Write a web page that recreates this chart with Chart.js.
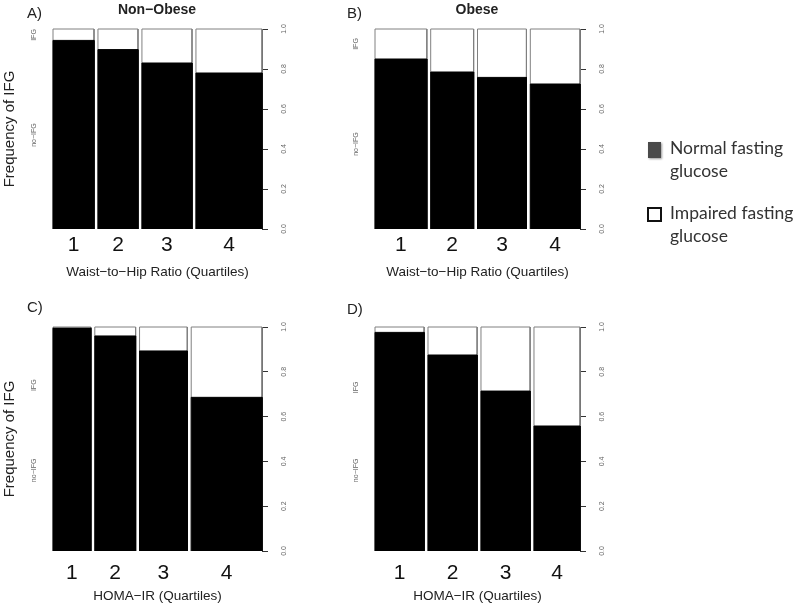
<!DOCTYPE html>
<html>
<head>
<meta charset="utf-8">
<script src="https://cdn.jsdelivr.net/npm/chart.js@4.4.1/dist/chart.umd.min.js"></script>
<style>
  body { margin: 0; background: #fff; font-family: "Liberation Sans", Arial, sans-serif; }
  #page { position: relative; width: 800px; height: 609px; overflow: hidden; }
  canvas { position: absolute; }
  .tag { position: absolute; font-size: 15px; color: #222; line-height: 1; }
  .ttl { position: absolute; font-size: 14px; font-weight: bold; color: #222; line-height: 1; transform: translateX(-50%); white-space: nowrap; }
  .leg { position: absolute; left: 670px; font-family: Lato, "Open Sans", sans-serif; font-size: 17.5px; color: #333; line-height: 23px; }
  .sw { position: absolute; box-sizing: border-box; }
</style>
</head>
<body>
<div id="page">
  <canvas id="pA" width="330" height="290" style="left:0;top:0"></canvas>
  <canvas id="pB" width="338" height="290" style="left:322px;top:0"></canvas>
  <canvas id="pC" width="330" height="319" style="left:0;top:290px"></canvas>
  <canvas id="pD" width="338" height="319" style="left:322px;top:290px"></canvas>

  <div class="tag" style="left:27px;top:5px">A)</div>
  <div class="tag" style="left:347px;top:5px">B)</div>
  <div class="tag" style="left:27px;top:299px">C)</div>
  <div class="tag" style="left:347px;top:301px">D)</div>
  <div class="ttl" style="left:157px;top:2px">Non−Obese</div>
  <div class="ttl" style="left:477px;top:2px">Obese</div>

  <div class="sw" style="left:648px;top:142px;width:13px;height:16px;background:#4a4a4a;box-shadow:1px 1px 2px #999"></div>
  <div class="leg" style="top:136px">Normal fasting<br>glucose</div>
  <div class="sw" style="left:647px;top:207px;width:15px;height:15px;border:2px solid #111;background:#fff"></div>
  <div class="leg" style="top:201px">Impaired fasting<br>glucose</div>
</div>
<script>
const quartiles = ["1", "2", "3", "4"];
const yLevels = ["no−IFG", "IFG"];
const rightTicks = [0, 0.2, 0.4, 0.6, 0.8, 1.0];

// share of subjects in each quartile (bar width) and share with normal fasting glucose
const whrNonObeseShare = [0.208, 0.203, 0.254, 0.335];
const whrNonObeseNormal = [0.943, 0.897, 0.83, 0.78];
const whrObeseShare = [0.268, 0.222, 0.253, 0.257];
const whrObeseNormal = [0.85, 0.785, 0.758, 0.725];
const homaNonObeseShare = [0.192, 0.207, 0.242, 0.359];
const homaNonObeseNormal = [0.995, 0.96, 0.893, 0.686];
const homaObeseShare = [0.254, 0.254, 0.254, 0.238];
const homaObeseNormal = [0.976, 0.875, 0.714, 0.558];

// where the no-IFG / IFG labels sit on the left axis
const levelPosA = [0.47, 0.97];
const levelPosB = [0.425, 0.925];
const levelPosC = [0.36, 0.74];
const levelPosD = [0.36, 0.73];

const GAP = 0.02;
const FONT = "'Liberation Sans', Arial, sans-serif";

function celda(a, b, top, fillColor, lineColor) {
  return {
    data: [{ x: a, y: 0 }, { x: a, y: top }, { x: b, y: top }, { x: b, y: 0 }],
    fill: "origin",
    backgroundColor: fillColor,
    borderColor: lineColor,
    borderWidth: 1,
    pointRadius: 0,
    tension: 0,
    clip: false,
    yAxisID: "y",
  };
}

function desenharPainel(id, share, normal, levelPos, cfg) {
  const total = share.reduce((s, v) => s + v, 0);
  const datasets = [];
  const centros = [];
  let x0 = 0;
  share.forEach((s, i) => {
    const x1 = x0 + s / total;
    centros.push((x0 + x1) / 2);
    datasets.push(celda(x0, x1, normal[i], "#000", "#000"));
    datasets.push(celda(x0, x1, 1, "#fff", "#808080"));
    x0 = x1 + GAP;
  });

  new Chart(document.getElementById(id), {
    type: "line",
    data: { datasets },
    options: {
      responsive: false,
      animation: false,
      devicePixelRatio: 1,
      layout: { padding: { top: cfg.top, left: 0, right: 0, bottom: 0 } },
      plugins: { legend: { display: false }, tooltip: { enabled: false } },
      scales: {
        x: {
          type: "linear",
          min: 0,
          max: 1 + GAP * (share.length - 1),
          afterBuildTicks: (s) => { s.ticks = centros.map((v) => ({ value: v })); },
          afterFit: (s) => { s.height = cfg.xh; },
          grid: { display: false, drawTicks: false },
          border: { display: false },
          ticks: {
            autoSkip: false, maxRotation: 0, padding: cfg.tickPad,
            color: "#111", font: { family: FONT, size: 21 },
            callback: (v, i) => quartiles[i],
          },
          title: {
            display: true, text: cfg.xTitle, color: "#222",
            font: { family: FONT, size: 13.5 },
            padding: { top: 0, bottom: cfg.titlePad },
          },
        },
        y: {
          position: "right",
          min: 0,
          max: 1,
          afterBuildTicks: (s) => { s.ticks = rightTicks.map((v) => ({ value: v })); },
          afterFit: (s) => { s.width = cfg.rw; },
          border: { display: true, color: "#333", width: 1 },
          grid: { drawOnChartArea: false, drawTicks: true, tickLength: 6, color: "#333" },
          ticks: {
            crossAlign: "center", minRotation: 90, maxRotation: 90, padding: 11,
            color: "#666", font: { family: FONT, size: 7 },
            callback: (v) => Number(v).toFixed(1),
          },
        },
        yl: {
          position: "left",
          min: 0,
          max: 1,
          afterBuildTicks: (s) => { s.ticks = levelPos.map((v) => ({ value: v })); },
          afterFit: (s) => { s.width = 53; },
          border: { display: false },
          grid: { display: false, drawTicks: false },
          ticks: {
            crossAlign: "center", minRotation: 90, maxRotation: 90, padding: 7,
            color: "#666", font: { family: FONT, size: 7 },
            callback: (v, i) => yLevels[i],
          },
          title: {
            display: !!cfg.yTitle, text: cfg.yTitle || "", color: "#222",
            font: { family: FONT, size: 15 },
            padding: { top: 1, bottom: 0 },
          },
        },
      },
    },
  });
}

desenharPainel("pA", whrNonObeseShare, whrNonObeseNormal, levelPosA,
  { top: 29, xh: 61, rw: 68, tickPad: 4, titlePad: 10, xTitle: "Waist−to−Hip Ratio (Quartiles)", yTitle: "Frequency of IFG" });
desenharPainel("pB", whrObeseShare, whrObeseNormal, levelPosB,
  { top: 29, xh: 61, rw: 80, tickPad: 4, titlePad: 10, xTitle: "Waist−to−Hip Ratio (Quartiles)" });
desenharPainel("pC", homaNonObeseShare, homaNonObeseNormal, levelPosC,
  { top: 37, xh: 58, rw: 68, tickPad: 10, titlePad: 5, xTitle: "HOMA−IR (Quartiles)", yTitle: "Frequency of IFG" });
desenharPainel("pD", homaObeseShare, homaObeseNormal, levelPosD,
  { top: 37, xh: 58, rw: 80, tickPad: 10, titlePad: 5, xTitle: "HOMA−IR (Quartiles)" });
</script>
</body>
</html>
